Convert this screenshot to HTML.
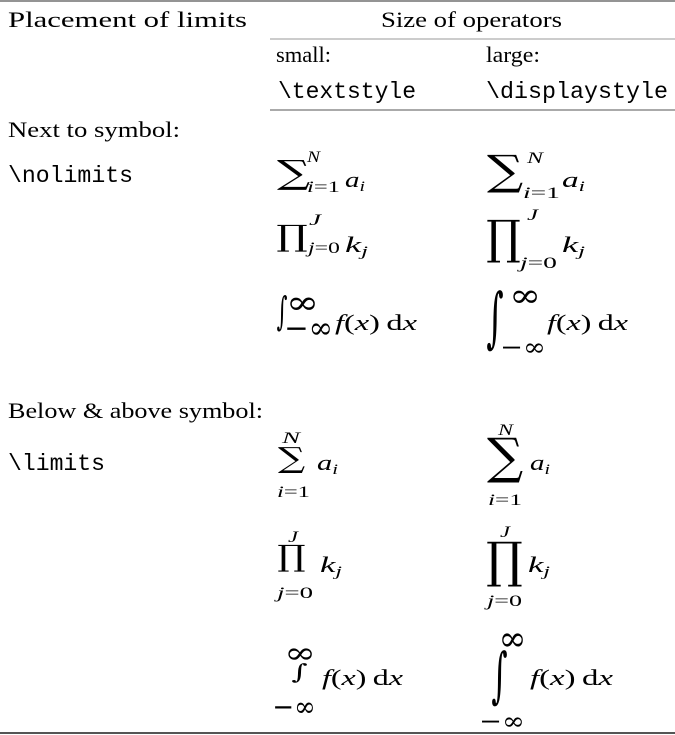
<!DOCTYPE html>
<html><head><meta charset="utf-8">
<style>
html,body{margin:0;padding:0;background:#fff;}
svg{display:block;}
.t{font-family:"Liberation Serif","DejaVu Serif",serif;fill:#000;}
.m{font-family:"Liberation Mono","DejaVu Sans Mono",monospace;fill:#000;}
.i{font-style:italic;}
</style></head>
<body>
<svg id="s" width="675" height="735" viewBox="0 0 675 735" xmlns="http://www.w3.org/2000/svg">
<line x1="0" y1="1" x2="675" y2="1" stroke="#555" stroke-width="1.3"/>
<line x1="270" y1="39" x2="675" y2="39" stroke="#999" stroke-width="1"/>
<line x1="270" y1="110" x2="675" y2="110" stroke="#555" stroke-width="1"/>
<line x1="0" y1="733" x2="675" y2="733" stroke="#555" stroke-width="2"/>

<text class="t" x="8" y="27" font-size="22" textLength="239" lengthAdjust="spacingAndGlyphs">Placement of limits</text>
<text class="t" x="381" y="27" font-size="22" textLength="181" lengthAdjust="spacingAndGlyphs">Size of operators</text>
<text class="t" x="276" y="62" font-size="22" textLength="55" lengthAdjust="spacingAndGlyphs">small:</text>
<text class="t" x="486" y="62" font-size="22" textLength="54" lengthAdjust="spacingAndGlyphs">large:</text>
<text class="m" x="278" y="98" font-size="23" textLength="138" lengthAdjust="spacingAndGlyphs">\textstyle</text>
<text class="m" x="486" y="98" font-size="23" textLength="182" lengthAdjust="spacingAndGlyphs">\displaystyle</text>
<text class="t" x="8" y="137" font-size="22" textLength="172" lengthAdjust="spacingAndGlyphs">Next to symbol:</text>
<text class="m" x="8" y="182" font-size="23" textLength="125" lengthAdjust="spacingAndGlyphs">\nolimits</text>
<text class="t" x="8" y="418" font-size="22" textLength="255" lengthAdjust="spacingAndGlyphs">Below &amp; above symbol:</text>
<text class="m" x="8" y="470" font-size="23" textLength="97" lengthAdjust="spacingAndGlyphs">\limits</text>
<g id="g"></g>
</svg>
<script>
const NS="http://www.w3.org/2000/svg";
const g=document.getElementById('g');
const cv=document.createElement('canvas').getContext('2d');
const SER='"DejaVu Serif","Liberation Serif",serif';
function fit(str,x0,y0,x1,y1,name){
  cv.font='100px '+SER;
  const m=cv.measureText(str);
  const w=m.actualBoundingBoxLeft+m.actualBoundingBoxRight;
  const h=m.actualBoundingBoxAscent+m.actualBoundingBoxDescent;
  const sx=(x1-x0)/w, sy=(y1-y0)/h;
  const t=document.createElementNS(NS,'text');
  t.setAttribute('font-size','100');
  t.setAttribute('font-family',SER);
  t.setAttribute('transform','translate('+(x0+m.actualBoundingBoxLeft*sx)+','+(y0+m.actualBoundingBoxAscent*sy)+') scale('+sx+','+sy+')');
  t.textContent=str;
  
  
  g.appendChild(t);
}
function txt(html,x,y,size,len,name){
  const t=document.createElementNS(NS,'text');
  t.setAttribute('class','t');
  t.setAttribute('x',x);t.setAttribute('y',y);t.setAttribute('font-size',size);
  if(len){t.setAttribute('textLength',len);t.setAttribute('lengthAdjust','spacingAndGlyphs');}
  t.innerHTML=html;
  
  
  g.appendChild(t);
}
const I=s=>'<tspan font-style="italic">'+s+'</tspan>';
const ai=(x,y)=>I('a')+'<tspan font-size="15" dy="4" font-style="italic">i</tspan>';
const kj=()=>I('k')+'<tspan font-size="15" dy="4" font-style="italic">j</tspan>';
const fx=()=>I('f')+'(' + I('x') + ')\u2009d' + I('x');

/* nolimits, textstyle */
fit('\u2211',277,160,310,190,'sum-symbol-small');
txt(I('N'),307,162,16,13,'sum-upper-small');
txt(I('i')+'=1',307,192,16,33,'sum-lower-small');
txt(ai(),345,187,22,20,'sum-term-small');
fit('\u220F',277,225,307,252,'prod-symbol-small');
txt(I('J'),309,225,16,12,'prod-upper-small');
txt(I('j')+'=0',308,253,16,32,'prod-lower-small');
txt(kj(),345,252,22,23,'prod-term-small');
fit('\u222B',277,295,287,332,'int-symbol-small');
fit('\u221E',290,297,315,310,'int-upper-small');
fit('\u2212\u221E',287,323,330,335,'int-lower-small');
txt(fx(),335,330,22,82,'int-term-small');
/* nolimits, displaystyle */
fit('\u2211',487,155,523,193,'sum-symbol-large');
txt(I('N'),527,163,16,16,'sum-upper-large');
txt(I('i')+'=1',523,198,16,37,'sum-lower-large');
txt(ai(),562,187,22,23,'sum-term-large');
fit('\u220F',487,220,520,263,'prod-symbol-large');
txt(I('J'),527,220,16,11,'prod-upper-large');
txt(I('j')+'=0',520,268,16,37,'prod-lower-large');
txt(kj(),562,252,22,23,'prod-term-large');
fit('\u222B',487,290,503,352,'int-symbol-large');
fit('\u221E',513,290,537,303,'int-upper-large');
fit('\u2212\u221E',503,343,543,353,'int-lower-large');
txt(fx(),547,330,22,81,'int-term-large');
/* limits, textstyle */
fit('\u2211',278,447,305,473,'lim-sum-symbol-small');
txt(I('N'),282,443,16,18,'lim-sum-upper-small');
txt(I('i')+'=1',277,497,16,33,'lim-sum-lower-small');
txt(ai(),317,470,22,21,'lim-sum-term-small');
fit('\u220F',278,545,305,572,'lim-prod-symbol-small');
txt(I('J'),288,542,16,10,'lim-prod-upper-small');
txt(I('j')+'=0',277,598,16,36,'lim-prod-lower-small');
txt(kj(),320,572,22,22,'lim-prod-term-small');
fit('\u221E',288,648,312,660,'lim-int-upper-small');
fit('\u222B',292,663,307,683,'lim-int-symbol-small');
fit('\u2212\u221E',275,702,313,713,'lim-int-lower-small');
txt(fx(),322,685,22,81,'lim-int-term-small');
/* limits, displaystyle */
fit('\u2211',487,438,523,483,'lim-sum-symbol-large');
txt(I('N'),498,435,16,15,'lim-sum-upper-large');
txt(I('i')+'=1',488,505,16,34,'lim-sum-lower-large');
txt(ai(),530,470,22,20,'lim-sum-term-large');
fit('\u220F',487,542,522,587,'lim-prod-symbol-large');
txt(I('J'),500,537,16,10,'lim-prod-upper-large');
txt(I('j')+'=0',487,606,16,35,'lim-prod-lower-large');
txt(kj(),528,572,22,22,'lim-prod-term-large');
fit('\u221E',502,633,523,647,'lim-int-upper-large');
fit('\u222B',492,650,507,707,'lim-int-symbol-large');
fit('\u2212\u221E',482,717,522,727,'lim-int-lower-large');
txt(fx(),530,685,22,83,'lim-int-term-large');
</script>
</body></html>
